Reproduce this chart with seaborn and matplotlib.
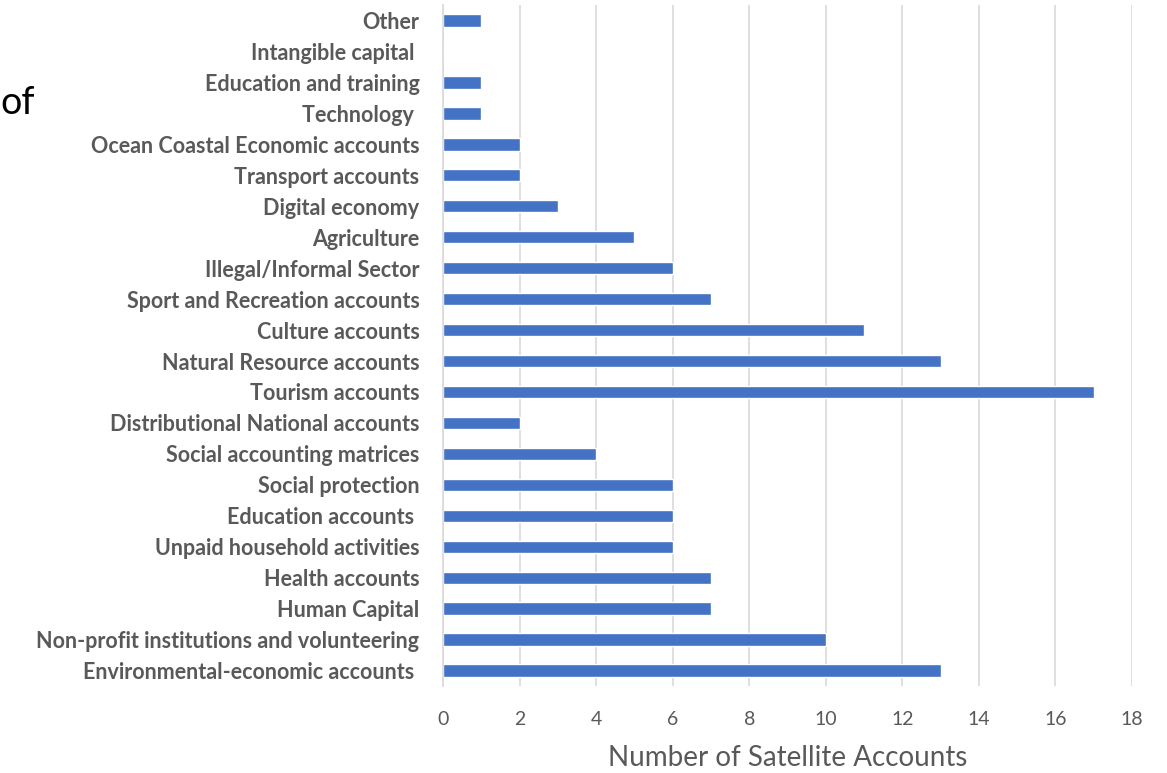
import matplotlib
matplotlib.use("Agg")
import matplotlib.pyplot as plt
import seaborn as sns
import pandas as pd

categories = [
    "Other", "Intangible capital ", "Education and training", "Technology ",
    "Ocean Coastal Economic accounts", "Transport accounts", "Digital economy",
    "Agriculture", "Illegal/Informal Sector", "Sport and Recreation accounts",
    "Culture accounts", "Natural Resource accounts", "Tourism accounts",
    "Distributional National accounts", "Social accounting matrices",
    "Social protection", "Education accounts ", "Unpaid household activities",
    "Health accounts", "Human Capital", "Non-profit institutions and volunteering",
    "Environmental-economic accounts ",
]
counts = [1, 0, 1, 1, 2, 2, 3, 5, 6, 7, 11, 13, 17, 2, 4, 6, 6, 6, 7, 7, 10, 13]
xticks = [0, 2, 4, 6, 8, 10, 12, 14, 16, 18]

df = pd.DataFrame({"category": categories, "count": counts})

sns.set_theme(style="white")
plt.rcParams["font.family"] = ["Lato", "DejaVu Sans"]

fig = plt.figure(figsize=(11.67, 7.73), dpi=100)
ax = fig.add_axes([0.3796, 0.1125, 0.5904, 0.881])

sns.barplot(data=df, y="category", x="count", orient="h", color="#4472C4",
            saturation=1, width=0.4, ax=ax)

ax.set_xlim(0, 18)
ax.set_xticks(xticks)
ax.set_xticklabels([str(t) for t in xticks], fontsize=14, color="#595959")
ax.tick_params(axis="x", length=0, pad=18)
ax.tick_params(axis="y", length=0, pad=17)
for lbl in ax.get_yticklabels():
    lbl.set_fontsize(15.5)
    lbl.set_fontweight("bold")
    lbl.set_color("#595959")

ax.grid(axis="x", color="#d9d9d9", linewidth=1.2)
ax.set_axisbelow(True)
for side in ["top", "right", "bottom"]:
    ax.spines[side].set_visible(False)
ax.spines["left"].set_color("#d9d9d9")
ax.spines["left"].set_linewidth(1.2)

ax.set_ylabel("")
ax.set_xlabel("Number of Satellite Accounts", fontsize=20, color="#595959", labelpad=12)

fig.text(0.0, 0.867, "of", fontsize=27, color="#000000", ha="left", va="center")

fig.savefig("out.png", dpi=100)
